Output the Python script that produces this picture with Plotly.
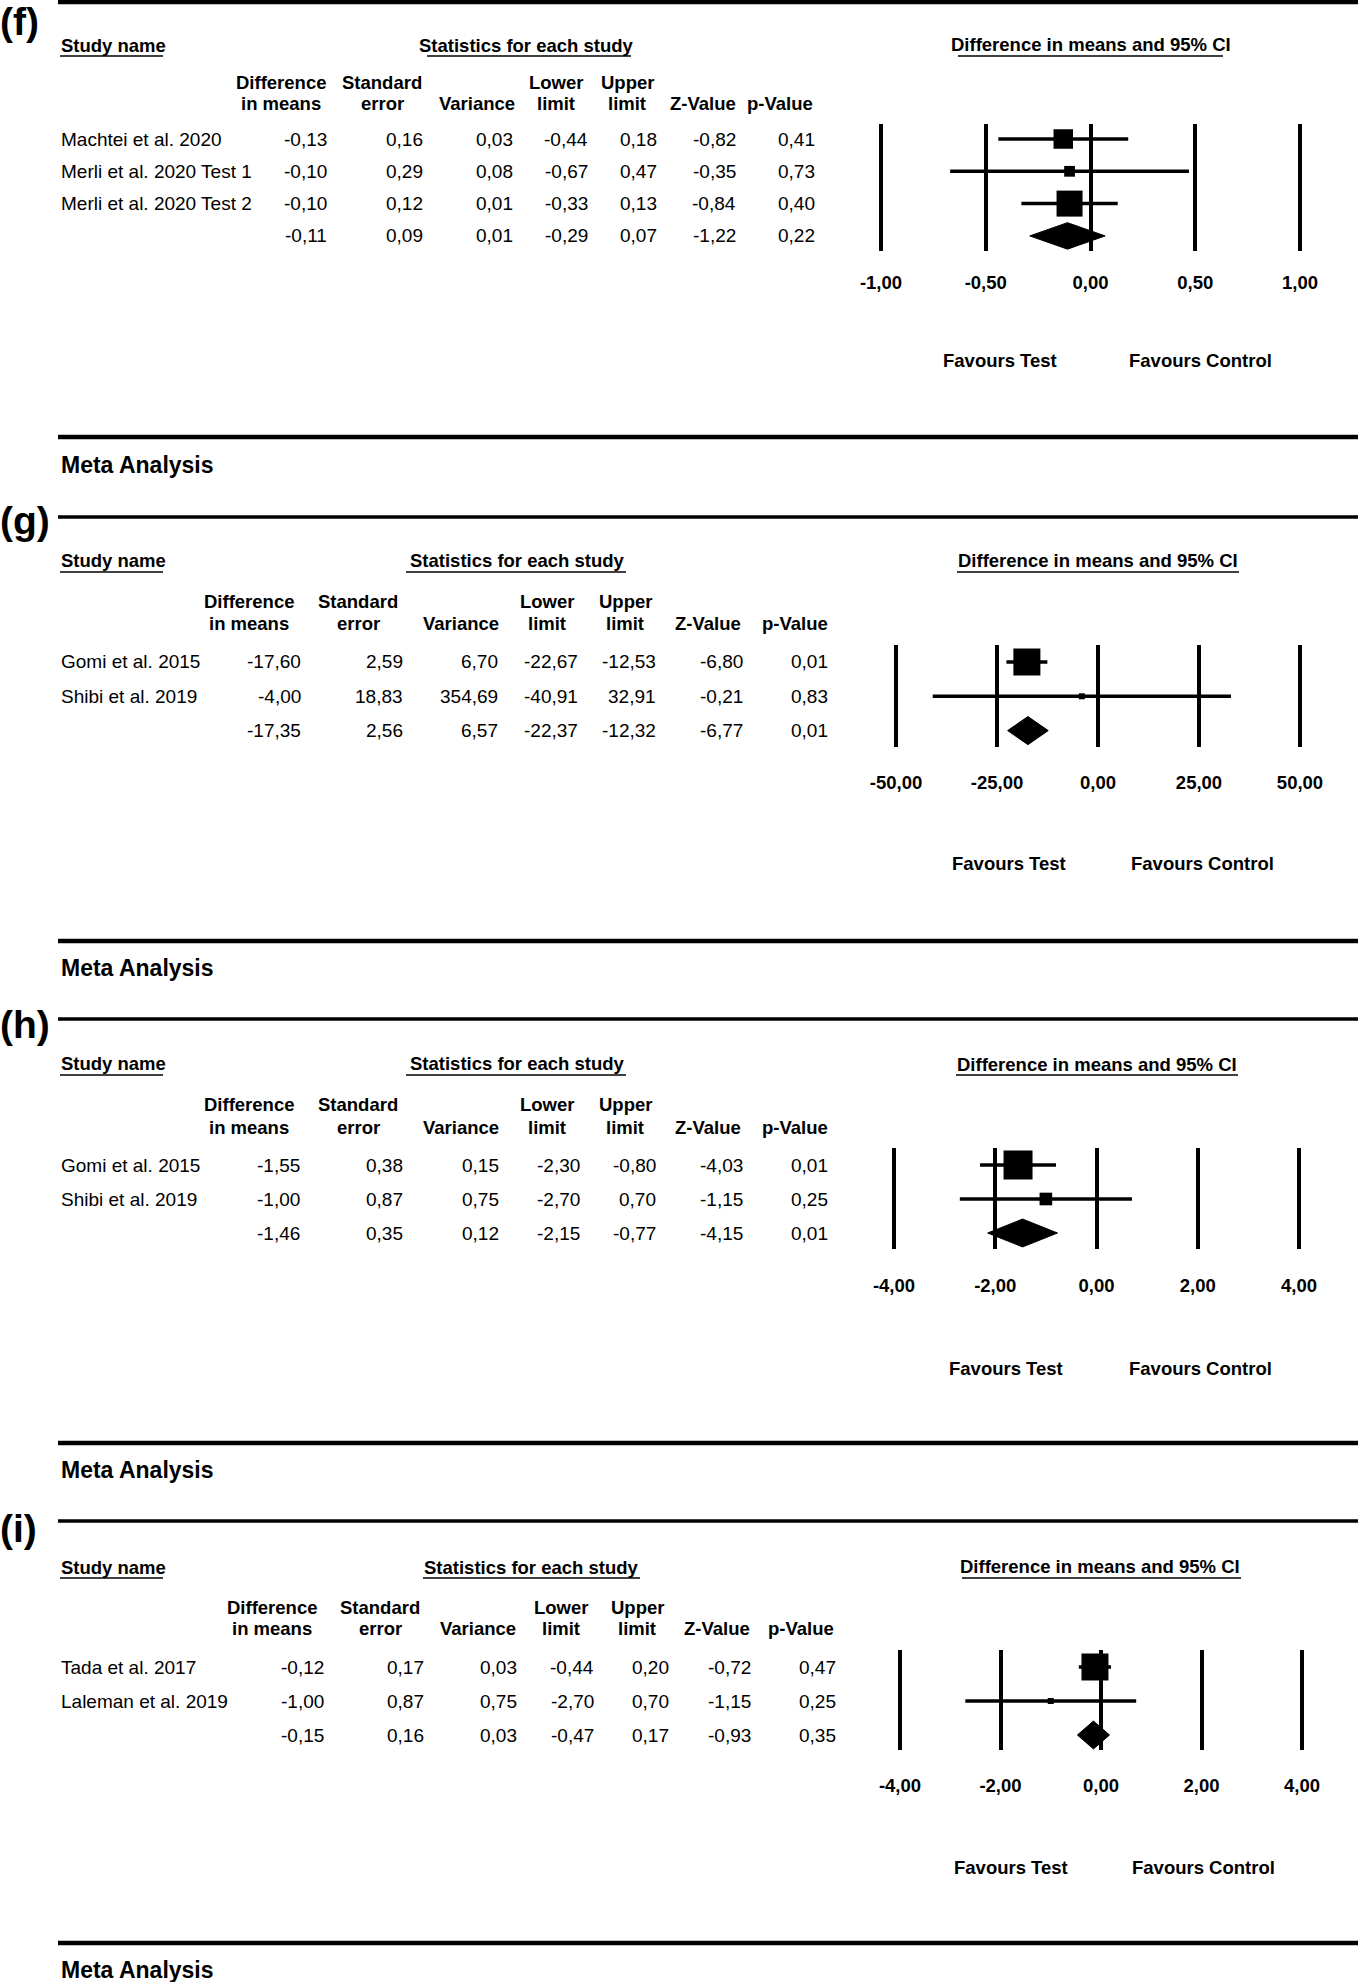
import math
import plotly.graph_objects as go

W, H = 1358, 1982
FONT = "Liberation Sans, Arial, sans-serif"

# ---------------- data ----------------
COL_HEAD_1 = ["Difference", "Standard", "", "Lower", "Upper", "", ""]
COL_HEAD_2 = ["in means", "error", "Variance", "limit", "limit", "Z-Value", "p-Value"]

F_STUDIES = ["Machtei et al. 2020", "Merli et al. 2020 Test 1", "Merli et al. 2020 Test 2", ""]
F_DIFF = [-0.13, -0.10, -0.10, -0.11]
F_SE = [0.16, 0.29, 0.12, 0.09]
F_VAR = [0.03, 0.08, 0.01, 0.01]
F_LOWER = [-0.44, -0.67, -0.33, -0.29]
F_UPPER = [0.18, 0.47, 0.13, 0.07]
F_Z = [-0.82, -0.35, -0.84, -1.22]
F_P = [0.41, 0.73, 0.40, 0.22]
F_TICKS = [-1.0, -0.5, 0.0, 0.5, 1.0]

G_STUDIES = ["Gomi et al. 2015", "Shibi et al. 2019", ""]
G_DIFF = [-17.60, -4.00, -17.35]
G_SE = [2.59, 18.83, 2.56]
G_VAR = [6.70, 354.69, 6.57]
G_LOWER = [-22.67, -40.91, -22.37]
G_UPPER = [-12.53, 32.91, -12.32]
G_Z = [-6.80, -0.21, -6.77]
G_P = [0.01, 0.83, 0.01]
G_TICKS = [-50.0, -25.0, 0.0, 25.0, 50.0]

H_STUDIES = ["Gomi et al. 2015", "Shibi et al. 2019", ""]
H_DIFF = [-1.55, -1.00, -1.46]
H_SE = [0.38, 0.87, 0.35]
H_VAR = [0.15, 0.75, 0.12]
H_LOWER = [-2.30, -2.70, -2.15]
H_UPPER = [-0.80, 0.70, -0.77]
H_Z = [-4.03, -1.15, -4.15]
H_P = [0.01, 0.25, 0.01]
H_TICKS = [-4.0, -2.0, 0.0, 2.0, 4.0]

I_STUDIES = ["Tada et al. 2017", "Laleman et al. 2019", ""]
I_DIFF = [-0.12, -1.00, -0.15]
I_SE = [0.17, 0.87, 0.16]
I_VAR = [0.03, 0.75, 0.03]
I_LOWER = [-0.44, -2.70, -0.47]
I_UPPER = [0.20, 0.70, 0.17]
I_Z = [-0.72, -1.15, -0.93]
I_P = [0.47, 0.25, 0.35]
I_TICKS = [-4.0, -2.0, 0.0, 2.0, 4.0]

# ---------------- layout (pixel geometry) ----------------
LAYOUTS = [
    dict(label="(f)", label_y=22, top_line=2, study_y=45, hdr=(82, 103), title_y=44,
         stats_x=526, title_x=1091, num_right=[327, 423, 513, 588, 657, 736, 815],
         hdr_c=[281, 382, 477, 556, 627, 703, 780], axis=(881, 1300), vl=(124, 251),
         rows=(139, 32.3), tick_y=283, fav_y=360, fav_x=(1000, 1200),
         ul_stats=(427, 631), ul_title=(958, 1223), ul_y=56, bottom=437, meta_y=465, sq=26),
    dict(label="(g)", label_y=520, top_line=517, study_y=560, hdr=(601, 623), title_y=561,
         stats_x=517, title_x=1098, num_right=[301, 403, 498, 578, 656, 743, 828],
         hdr_c=[249, 358, 461, 547, 625, 708, 795], axis=(896, 1300), vl=(645, 747),
         rows=(662, 34.3), tick_y=783, fav_y=864, fav_x=(1009, 1202),
         ul_stats=(406, 626), ul_title=(957, 1239), ul_y=572, bottom=941, meta_y=968, sq=27),
    dict(label="(h)", label_y=1024, top_line=1019, study_y=1063, hdr=(1104, 1127), title_y=1064,
         stats_x=517, title_x=1097, num_right=[300, 403, 499, 580, 656, 743, 828],
         hdr_c=[249, 358, 461, 547, 625, 708, 795], axis=(894, 1299), vl=(1148, 1249),
         rows=(1165, 34.0), tick_y=1286, fav_y=1368, fav_x=(1006, 1200),
         ul_stats=(406, 626), ul_title=(956, 1238), ul_y=1075, bottom=1443, meta_y=1470, sq=29),
    dict(label="(i)", label_y=1528, top_line=1521, study_y=1567, hdr=(1607, 1628), title_y=1566,
         stats_x=531, title_x=1100, num_right=[324, 424, 517, 594, 669, 751, 836],
         hdr_c=[272, 380, 478, 561, 637, 717, 801], axis=(900, 1302), vl=(1650, 1750),
         rows=(1667, 34.0), tick_y=1786, fav_y=1867, fav_x=(1011, 1203),
         ul_stats=(423, 640), ul_title=(962, 1241), ul_y=1578, bottom=1943, meta_y=1970, sq=27),
]

PANELS = [
    dict(studies=F_STUDIES, cols=[F_DIFF, F_SE, F_VAR, F_LOWER, F_UPPER, F_Z, F_P], ticks=F_TICKS),
    dict(studies=G_STUDIES, cols=[G_DIFF, G_SE, G_VAR, G_LOWER, G_UPPER, G_Z, G_P], ticks=G_TICKS),
    dict(studies=H_STUDIES, cols=[H_DIFF, H_SE, H_VAR, H_LOWER, H_UPPER, H_Z, H_P], ticks=H_TICKS),
    dict(studies=I_STUDIES, cols=[I_DIFF, I_SE, I_VAR, I_LOWER, I_UPPER, I_Z, I_P], ticks=I_TICKS),
]


def fmt(v):
    return f"{v:.2f}".replace(".", ",")


def PX(x):
    return x / W


def PY(y):
    return 1 - y / H


def ann(**kw):
    base = dict(showarrow=False, borderpad=0, borderwidth=0)
    base.update(kw)
    return base


fig = go.Figure()
annotations = []
shapes = []
LW = 3.5
PAD = 12

for k, (P, L) in enumerate(zip(PANELS, LAYOUTS), start=1):
    xa = "x" if k == 1 else f"x{k}"
    ya = "y" if k == 1 else f"y{k}"
    diff, se, var, lower, upper, z, p = P["cols"]
    n = len(diff)
    ns = n - 1  # study rows (last = summary)

    # ---- axes ----
    lo, hi = P["ticks"][0], P["ticks"][-1]
    x0, x1 = L["axis"]
    scale = (x1 - x0) / (hi - lo)
    r0, d = L["rows"]
    vt, vb = L["vl"]
    fig.layout[("xaxis" if k == 1 else f"xaxis{k}")] = dict(
        domain=[PX(x0 - PAD), PX(x1 + PAD)],
        range=[lo - PAD / scale, hi + PAD / scale],
        anchor=ya, tickvals=P["ticks"], ticktext=[fmt(t) for t in P["ticks"]],
        showgrid=True, gridcolor="black", gridwidth=LW, zeroline=False, showline=False,
        ticks="", tickfont=dict(family=FONT, size=18.5, color="black", weight="bold"),
        ticklabelstandoff=L["tick_y"] - vb - 14, fixedrange=True, automargin=False,
    )
    fig.layout[("yaxis" if k == 1 else f"yaxis{k}")] = dict(
        domain=[PY(vb), PY(vt)],
        range=[(vb - r0) / d, (vt - r0) / d],
        anchor=xa, visible=False, showgrid=False, zeroline=False, fixedrange=True,
        automargin=False,
    )

    # ---- confidence intervals ----
    for i in range(ns):
        fig.add_trace(go.Scatter(x=[lower[i], upper[i]], y=[i, i], mode="lines",
                                 line=dict(color="black", width=LW), xaxis=xa, yaxis=ya,
                                 hoverinfo="skip", showlegend=False))
    # ---- squares (area ~ inverse variance weight) ----
    w = [1 / (s * s) for s in se[:ns]]
    wmax = max(w)
    sizes = [max(L["sq"] * math.sqrt(wi / wmax), 6) for wi in w]
    fig.add_trace(go.Scatter(x=diff[:ns], y=list(range(ns)), mode="markers",
                             marker=dict(symbol="square", size=sizes, color="black",
                                         opacity=1, line=dict(width=0)),
                             xaxis=xa, yaxis=ya, hoverinfo="skip", showlegend=False))
    # ---- summary diamond ----
    s = ns
    hh = 0.41
    fig.add_trace(go.Scatter(x=[lower[s], diff[s], upper[s], diff[s], lower[s]],
                             y=[s, s - hh, s, s + hh, s], mode="lines", fill="toself",
                             fillcolor="black", line=dict(color="black", width=1),
                             xaxis=xa, yaxis=ya, hoverinfo="skip", showlegend=False))

    # ---- table text ----
    reg = dict(family=FONT, size=19, color="black")
    for i in range(n):
        if P["studies"][i]:
            annotations.append(ann(x=PX(61), xref="paper", y=i, yref=ya, text=P["studies"][i],
                                   xanchor="left", yanchor="middle", font=reg))
        for c in range(7):
            annotations.append(ann(x=PX(L["num_right"][c]), xref="paper", y=i, yref=ya,
                                   text=fmt(P["cols"][c][i]), xanchor="right", yanchor="middle",
                                   font=reg))
    # headers
    bold = dict(family=FONT, size=18.5, color="black", weight="bold")
    for c in range(7):
        for txt, yy in ((COL_HEAD_1[c], L["hdr"][0]), (COL_HEAD_2[c], L["hdr"][1])):
            if txt:
                annotations.append(ann(x=PX(L["hdr_c"][c]), xref="paper", y=PY(yy), yref="paper",
                                       text=txt, xanchor="center", yanchor="middle", font=bold))
    annotations.append(ann(x=PX(61), xref="paper", y=PY(L["study_y"]), yref="paper",
                           text="Study name", xanchor="left", yanchor="middle", font=bold))
    annotations.append(ann(x=PX(L["stats_x"]), xref="paper", y=PY(L["study_y"]), yref="paper",
                           text="Statistics for each study", xanchor="center", yanchor="middle",
                           font=bold))
    annotations.append(ann(x=PX(L["title_x"]), xref="paper", y=PY(L["title_y"]), yref="paper",
                           text="Difference in means and 95% CI", xanchor="center",
                           yanchor="middle", font=bold))
    annotations.append(ann(x=PX(L["fav_x"][0]), xref="paper", y=PY(L["fav_y"]), yref="paper",
                           text="Favours Test", xanchor="center", yanchor="middle", font=bold))
    annotations.append(ann(x=PX(L["fav_x"][1]), xref="paper", y=PY(L["fav_y"]), yref="paper",
                           text="Favours Control", xanchor="center", yanchor="middle", font=bold))
    annotations.append(ann(x=PX(0), xref="paper", y=PY(L["label_y"]), yref="paper",
                           text=L["label"], xanchor="left", yanchor="middle",
                           font=dict(family=FONT, size=39, color="black", weight="bold")))
    annotations.append(ann(x=PX(61), xref="paper", y=PY(L["meta_y"]), yref="paper",
                           text="Meta Analysis", xanchor="left", yanchor="middle",
                           font=dict(family=FONT, size=23, color="black", weight="bold")))

    # underlines
    uy = PY(L["ul_y"])
    for (a, b) in ((60, 163), L["ul_stats"], L["ul_title"]):
        shapes.append(dict(type="line", xref="paper", yref="paper", x0=PX(a), x1=PX(b),
                           y0=uy, y1=uy, line=dict(color="black", width=1.6)))
    # rules
    shapes.append(dict(type="line", xref="paper", yref="paper", x0=PX(58), x1=1,
                       y0=PY(L["top_line"]), y1=PY(L["top_line"]),
                       line=dict(color="black", width=3.5 if k > 1 else 4.5)))
    shapes.append(dict(type="line", xref="paper", yref="paper", x0=PX(58), x1=1,
                       y0=PY(L["bottom"]), y1=PY(L["bottom"]),
                       line=dict(color="black", width=4.5)))

fig.update_layout(
    width=W, height=H, autosize=False,
    margin=dict(l=0, r=0, t=0, b=0, pad=0, autoexpand=False),
    paper_bgcolor="white", plot_bgcolor="white",
    annotations=annotations, shapes=shapes, showlegend=False,
    font=dict(family=FONT, color="black"),
)

fig.write_html(
    "out.html",
    config={"displayModeBar": False, "responsive": False},
    post_script="document.body.style.margin='0';document.body.style.overflow='hidden';",
)
